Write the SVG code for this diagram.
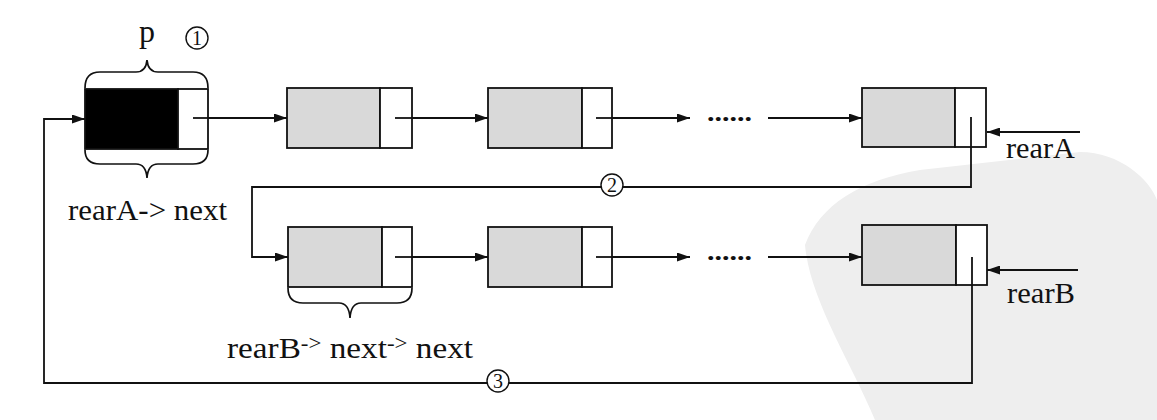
<svg xmlns="http://www.w3.org/2000/svg" width="1157" height="420" viewBox="0 0 1157 420">
<style>
.box{stroke:#111;stroke-width:1.8;}
.data{fill:#d9d9d9;}
.ptr{fill:#fff;}
.ln{fill:none;stroke:#111;stroke-width:1.8;}
.brace{fill:none;stroke:#111;stroke-width:1.7;}
.lbl{font-family:"Liberation Serif",serif;font-size:29px;fill:#111;}
.dots{font-family:"Liberation Serif",serif;font-size:26px;font-weight:bold;fill:#111;}
.circ{fill:#fff;stroke:#111;stroke-width:1.4;}
.num{font-family:"Liberation Serif",serif;font-size:20px;fill:#111;text-anchor:middle;}
</style>
<defs>
<marker id="ah" markerWidth="13" markerHeight="9" refX="13" refY="4.5" orient="auto" markerUnits="userSpaceOnUse">
<path d="M0,0 L13,4.5 L0,9 z" fill="#111"/>
</marker>
</defs>
<rect width="1157" height="420" fill="#fff"/>
<g id="watermark">
<path d="M805,245 C820,205 860,180 920,170 L1080,152 C1120,152 1150,180 1157,200 L1157,420 L875,420 C850,360 810,300 805,245 Z" fill="#eeeeee"/>
</g>
<g id="connectors">
<path class="ln" d="M193,118 H287" marker-end="url(#ah)"/>
<path class="ln" d="M395,118 H488" marker-end="url(#ah)"/>
<path class="ln" d="M596,118 H690" marker-end="url(#ah)"/>
<path class="ln" d="M768,118 H862" marker-end="url(#ah)"/>
<path class="ln" d="M1080,132 H987" marker-end="url(#ah)"/>
<path class="ln" d="M971,117 V187 H252 V257 H288" marker-end="url(#ah)"/>
<path class="ln" d="M395,257 H488" marker-end="url(#ah)"/>
<path class="ln" d="M596,257 H690" marker-end="url(#ah)"/>
<path class="ln" d="M768,257 H862" marker-end="url(#ah)"/>
<path class="ln" d="M1078,270 H987" marker-end="url(#ah)"/>
<path class="ln" d="M972,257 V383 H44 V119 H85" marker-end="url(#ah)"/>
<text class="dots" x="707" y="121" textLength="45" lengthAdjust="spacingAndGlyphs">......</text>
<text class="dots" x="707" y="260" textLength="45" lengthAdjust="spacingAndGlyphs">......</text>
<circle class="circ" cx="612" cy="185" r="11"/>
<text class="num" x="612" y="192">2</text>
<circle class="circ" cx="498" cy="381" r="11"/>
<text class="num" x="498" y="388">3</text>
</g>
<g id="node-p">
<rect x="85" y="89" width="93" height="60" fill="#000" class="box"/>
<rect x="178" y="89" width="30" height="60" class="box ptr"/>
<path class="ln" d="M193,118 H208"/>
<path class="brace" d="M85,88 Q85,72 100,72 L136,72 Q146,72 147,60 Q148,72 158,72 L193,72 Q208,72 208,88"/>
<path class="brace" d="M85,150 Q85,164 100,164 L136,164 Q146,164 147,178 Q148,164 158,164 L193,164 Q208,164 208,150"/>
<text class="lbl" x="147" y="42" text-anchor="middle" style="font-size:32px">p</text>
<circle class="circ" cx="197" cy="38" r="11"/>
<text class="num" x="197" y="45">1</text>
<text class="lbl" x="68" y="220" textLength="159" lengthAdjust="spacingAndGlyphs">rearA-&gt; next</text>
</g>
<g id="node-a2">
<rect x="287" y="88" width="93" height="60" class="box data"/>
<rect x="380" y="88" width="32" height="60" class="box ptr"/>
</g>
<g id="node-a3">
<rect x="488" y="88" width="94" height="60" class="box data"/>
<rect x="582" y="88" width="30" height="60" class="box ptr"/>
</g>
<g id="node-a4">
<rect x="862" y="88" width="93" height="59" class="box data"/>
<rect x="955" y="88" width="31" height="59" class="box ptr"/>
<text class="lbl" x="1006" y="158" textLength="69" lengthAdjust="spacingAndGlyphs">rearA</text>
</g>
<g id="node-b1">
<rect x="288" y="227" width="94" height="60" class="box data"/>
<rect x="382" y="227" width="30" height="60" class="box ptr"/>
<path class="brace" d="M288,288 Q288,303 303,303 L339,303 Q349,303 350,318 Q351,303 361,303 L397,303 Q412,303 412,288"/>
<text class="lbl" x="227" y="358" textLength="246" lengthAdjust="spacingAndGlyphs">rearB<tspan font-size="20" dy="-8">-&gt;</tspan><tspan dy="8"> next</tspan><tspan font-size="20" dy="-8">-&gt;</tspan><tspan dy="8"> next</tspan></text>
</g>
<g id="node-b2">
<rect x="488" y="227" width="94" height="60" class="box data"/>
<rect x="582" y="227" width="30" height="60" class="box ptr"/>
</g>
<g id="node-b3">
<rect x="862" y="225" width="94" height="60" class="box data"/>
<rect x="956" y="225" width="31" height="60" class="box ptr"/>
<text class="lbl" x="1007" y="303" textLength="68" lengthAdjust="spacingAndGlyphs">rearB</text>
</g>
<g id="pointer-stubs">
<path class="ln" d="M395,118 H412"/>
<path class="ln" d="M596,118 H612"/>
<path class="ln" d="M971,117 V147"/>
<path class="ln" d="M395,257 H412"/>
<path class="ln" d="M596,257 H612"/>
<path class="ln" d="M972,257 V285"/>
</g>
</svg>
